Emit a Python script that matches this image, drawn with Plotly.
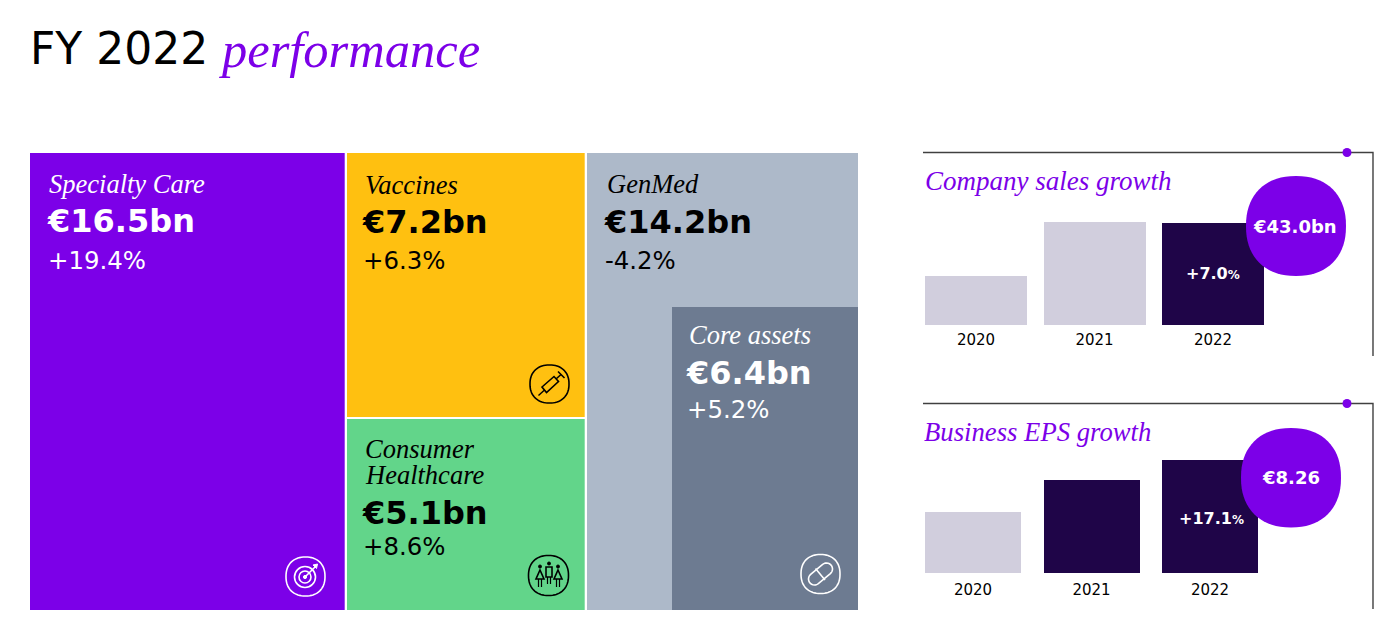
import numpy as np
import plotly.graph_objects as go

W, H = 1396, 632

PURPLE = "#7C00E8"
DARK = "#1F0548"
LIGHT = "#D1CEDD"
SERIF = "Liberation Serif"
SANS = "DejaVu Sans"

# segment tiles
segments = ["Specialty Care", "Vaccines", "Consumer Healthcare", "GenMed", "Core assets"]
segment_sales = [16.5, 7.2, 5.1, 14.2, 6.4]
segment_growth = [19.4, 6.3, 8.6, -4.2, 5.2]
segment_colors = ["#7C00E8", "#FFC010", "#62D58A", "#ADB9C9", "#6D7B91"]
segment_text = ["white", "black", "black", "black", "white"]

# small bar panels, heights (no axis on the original)
years = ["2020", "2021", "2022"]
sales_index = [49, 103, 102]
sales_colors = [LIGHT, LIGHT, DARK]
eps_index = [61, 93, 113]
eps_colors = [LIGHT, DARK, DARK]


def X(px):
    return px / W


def Y(py):
    return 1 - py / H


def poly(points, close=True):
    s = "M" + " L".join(f"{X(x):.5f},{Y(y):.5f}" for x, y in points)
    return s + (" Z" if close else "")


def squircle(cx, cy, rx, ry, n=2.25):
    t = np.linspace(0, 2 * np.pi, 72, endpoint=False)
    xs = cx + rx * np.sign(np.cos(t)) * np.abs(np.cos(t)) ** (2 / n)
    ys = cy + ry * np.sign(np.sin(t)) * np.abs(np.sin(t)) ** (2 / n)
    return poly(list(zip(xs, ys)))


def capsule(x0, y0, x1, y1, r):
    a = np.arctan2(y1 - y0, x1 - x0)
    t = np.linspace(-np.pi / 2, np.pi / 2, 14)
    pts = [(x1 + r * np.cos(a + u), y1 + r * np.sin(a + u)) for u in t]
    pts += [(x0 + r * np.cos(a + np.pi + u), y0 + r * np.sin(a + np.pi + u)) for u in t]
    return poly(pts)


fig = go.Figure()
shapes = []
annotations = []


def add_text(text, x, y, size, color="black", family=SANS, anchor="left", italic=False, box_height=None):
    annotations.append(dict(
        text=text, x=X(x), y=Y(y), xref="paper", yref="paper",
        xanchor=anchor, yanchor="middle", showarrow=False, borderpad=0, height=box_height,
        font=dict(size=size, color=color, family=family, style="italic" if italic else "normal"),
    ))


def stroke(path, color, width=1.6, fill="rgba(0,0,0,0)"):
    shapes.append(dict(type="path", path=path, xref="paper", yref="paper",
                       line=dict(color=color, width=width), fillcolor=fill, layer="above"))


def line(x0, y0, x1, y1, color, width=1.6):
    stroke(poly([(x0, y0), (x1, y1)], close=False), color, width)


def circle(cx, cy, r, color, width=1.6, fill="rgba(0,0,0,0)"):
    shapes.append(dict(type="circle", xref="paper", yref="paper",
                       x0=X(cx - r), x1=X(cx + r), y0=Y(cy + r), y1=Y(cy - r),
                       line=dict(color=color, width=width), fillcolor=fill, layer="above"))


# tile boxes in pixels: left, right, top, bottom
tile_boxes = [(30, 344.7, 153, 610), (346.7, 584.7, 153, 417), (346.7, 584.7, 419, 610),
              (586.7, 858, 153, 610), (672, 858, 307, 610)]

layout_axes = {}
for i, (name, val, col) in enumerate(zip(segments, segment_sales, segment_colors)):
    n = i + 1
    l, r, t, b = tile_boxes[i]
    fig.add_trace(go.Bar(
        x=[name], y=[val], width=1, marker_color=col, marker_line_width=0,
        xaxis=f"x{n}", yaxis=f"y{n}", showlegend=False,
        hovertemplate="%{x}: €%{y}bn<extra></extra>",
    ))
    layout_axes[f"xaxis{n}"] = dict(domain=[X(l), X(r)], range=[-.5, .5], visible=False,
                                    anchor=f"y{n}", fixedrange=True)
    layout_axes[f"yaxis{n}"] = dict(domain=[Y(b), Y(t)], range=[0, val], visible=False,
                                    anchor=f"x{n}", fixedrange=True)

# small bar panels: values, colours, axis number, left, right, baseline, top, top of range, bar width, tick gap
panels = [
    (sales_index, sales_colors, 6, 916.75, 1272.25, 325, 215, 110, 102 / 118.5, 1),
    (eps_index, eps_colors, 7, 913.75, 1269.25, 573, 453, 120, 96 / 118.5, 3),
]
for vals, cols, n, l, r, base, top, ymax, bw, tl in panels:
    fig.add_trace(go.Bar(
        x=years, y=vals, width=bw, marker_color=cols, marker_line_width=0,
        xaxis=f"x{n}", yaxis=f"y{n}", showlegend=False,
    ))
    layout_axes[f"xaxis{n}"] = dict(
        domain=[X(l), X(r)], anchor=f"y{n}", type="category", showgrid=False, zeroline=False,
        showline=False, ticks="outside", ticklen=tl, tickcolor="rgba(0,0,0,0)",
        tickfont=dict(family=SANS, size=15, color="black"), fixedrange=True,
    )
    layout_axes[f"yaxis{n}"] = dict(domain=[Y(base), Y(top)], range=[0, ymax], visible=False,
                                    anchor=f"x{n}", fixedrange=True)

# title
add_text("FY 2022", 28.5, 49, 44)
add_text("performance", 218, 50, 50.5, PURPLE, SERIF, italic=True)

# tile labels: x of name, value, growth and their y centres
label_pos = [
    (48, 46, 47, 184, 221, 260),
    (364, 361, 362, 185, 222, 260),
    (364, 361, 362, None, 513, 546),
    (606, 603, 604, 184, 222, 260),
    (688, 685, 686, 335, 373, 409),
]
for i, (xn, xv, xg, yn, yv, yg) in enumerate(label_pos):
    c = segment_text[i]
    if yn is not None:
        add_text(segments[i], xn, yn, 26.5, c, SERIF, italic=True)
    add_text(f"<b>€{segment_sales[i]}bn</b>", xv, yv, 32, c)
    add_text(f"{segment_growth[i]:+.1f}%", xg, yg, 24.4, c)

# the one name on two lines
add_text("Consumer", 364, 448, 26.5, "black", SERIF, italic=True, box_height=25)
add_text("Healthcare", 364, 474, 26.5, "black", SERIF, italic=True, box_height=25)

# right hand frames
for y0, y1 in [(152.5, 356), (403.5, 609)]:
    stroke(poly([(923, y0), (1373, y0), (1373, y1)], close=False), "#404040", 1.4)
    circle(1347, y0, 4.5, PURPLE, 0, PURPLE)

add_text("Company sales growth", 923.5, 181, 27, PURPLE, SERIF, italic=True)
add_text("Business EPS growth", 922.5, 432, 26.7, PURPLE, SERIF, italic=True)

# blobs
shapes.append(dict(type="path", path=squircle(1296, 226, 50, 50), xref="paper", yref="paper",
                   line_width=0, fillcolor=PURPLE, layer="above"))
shapes.append(dict(type="path", path=squircle(1291, 477.7, 50, 49.7), xref="paper", yref="paper",
                   line_width=0, fillcolor=PURPLE, layer="above"))
add_text("<b>€43.0bn</b>", 1295, 226, 18, "white", anchor="center")
add_text("<b>€8.26</b>", 1290.5, 477.5, 18, "white", anchor="center")
add_text("<b>+7.0<span style='font-size:12px'>%</span></b>", 1213, 273, 16, "white", anchor="center")
add_text("<b>+17.1<span style='font-size:12px'>%</span></b>", 1211.5, 518.5, 16, "white", anchor="center")

# icons
# target
stroke(squircle(305.5, 576.5, 19.5, 19.5), "white")
circle(305, 577, 10.5, "white")
circle(305, 577, 6, "white")
circle(305, 577, 1.6, "white", 1, "white")
line(305, 577, 316, 566, "white")
stroke(poly([(313, 565), (317.5, 564), (316.5, 568.5)]), "white", 1, "white")

# syringe
k = "black"
stroke(squircle(549.5, 384, 19.5, 19), k)
line(538.5, 395.5, 544.5, 390, k, 1.4)
stroke(poly([(542, 387), (554, 376.5), (558.5, 381.5), (546.5, 392.5)]), k)
line(556, 379, 561, 374.5, k)
line(558, 371.5, 564.5, 378, k)

# people
stroke(squircle(548.5, 575.5, 20, 20), k)
circle(549, 563.5, 1.5, k, 1, k)
stroke(poly([(546, 567), (552, 567), (552, 577), (546, 577)]), k)
line(547.5, 577, 547.5, 584, k, 1.2)
line(550.5, 577, 550.5, 584, k, 1.2)
for cx in (540, 558):
    circle(cx, 566.5, 1.5, k, 1, k)
    stroke(poly([(cx, 570), (cx + 4, 579), (cx - 4, 579)]), k)
    line(cx - 1.5, 579, cx - 1.5, 587, k, 1.2)
    line(cx + 1.5, 579, cx + 1.5, 587, k, 1.2)

# pill
stroke(squircle(820.5, 574, 19.5, 19.5), "white")
stroke(capsule(814.5, 579, 826.5, 569, 6), "white")
line(815.5, 568.5, 825, 580, "white")

fig.update_layout(
    width=W, height=H,
    margin=dict(l=0, r=0, t=0, b=0),
    paper_bgcolor="white", plot_bgcolor="white",
    bargap=0,
    shapes=shapes,
    annotations=annotations,
    **layout_axes,
)

fig.write_html("out.html", config=dict(displayModeBar=False),
               post_script="document.body.style.margin='0';document.body.style.overflow='hidden';")
